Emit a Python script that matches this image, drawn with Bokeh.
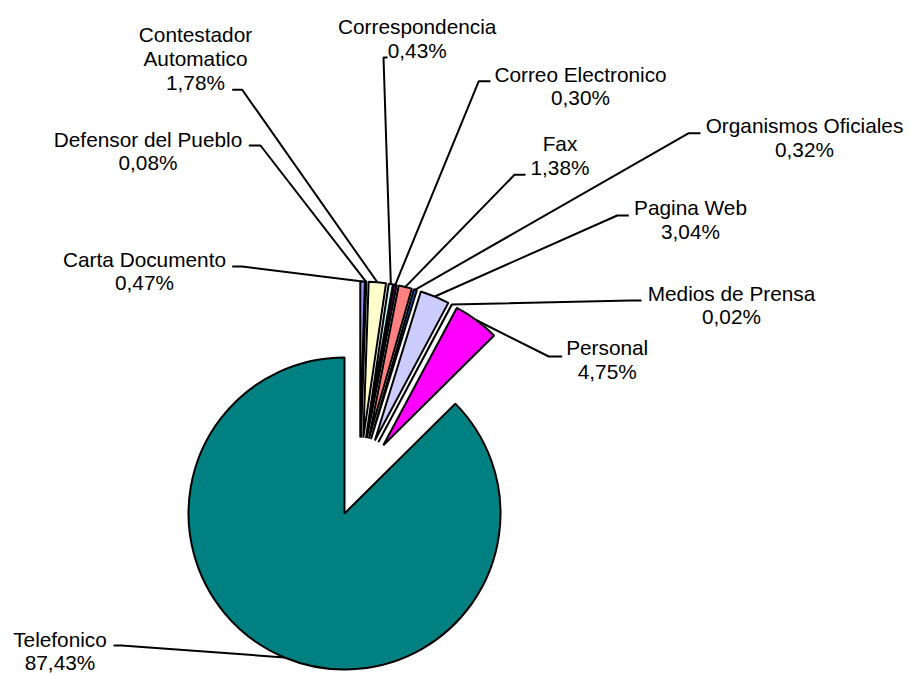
import numpy as np
from bokeh.plotting import figure
from bokeh.models import ColumnDataSource, Range1d
from bokeh.core.properties import value
from bokeh.embed import file_html
from bokeh.resources import INLINE

# ---- data ----
categories = ["Carta Documento", "Defensor del Pueblo", "Contestador Automatico",
              "Correspondencia", "Correo Electronico", "Fax", "Organismos Oficiales",
              "Pagina Web", "Medios de Prensa", "Personal", "Telefonico"]
shares = [0.47, 0.08, 1.78, 0.43, 0.30, 1.38, 0.32, 3.04, 0.02, 4.75, 87.43]
colors = ["#9999FF", "#993366", "#FFFFCC", "#CCFFFF", "#660066", "#FF8080",
          "#0066CC", "#CCCCFF", "#000080", "#FF00FF", "#008080"]
label_name_lines = [["Carta Documento"], ["Defensor del Pueblo"], ["Contestador", "Automatico"],
                    ["Correspondencia"], ["Correo Electronico"], ["Fax"], ["Organismos Oficiales"],
                    ["Pagina Web"], ["Medios de Prensa"], ["Personal"], ["Telefonico"]]

# ---- layout (reference pixel coordinates, y downward) ----
label_cx = [144.0, 147.5, 195.0, 416.7, 580.0, 559.5, 804.0, 690.0, 731.0, 606.7, 59.5]
label_base = [266.7, 146.7, 42.3, 34.0, 81.7, 151.0, 133.3, 215.0, 300.7, 355.0, 646.7]
stub_x0 = [231.7, 248.3, 231.7, 387.0, 490.0, 525.0, 700.0, 628.3, 641.0, 561.7, 113.0]
stub_x1 = [241.7, 260.0, 241.7, 383.0, 478.3, 514.0, 688.3, 616.7, 630.0, 548.3, 121.0]
stub_y = [266.0, 145.0, 89.3, 57.0, 80.7, 174.3, 132.7, 215.0, 300.0, 356.0, 645.0]
LINE_GAP = 23.7
TEXT_SHIFT = 8.0
CX, CY, R, EXPLODE = 359.2, 476.5, 156.0, 39.5

vals = np.array(shares, dtype=float)
frac = vals / vals.sum()
cum_end = np.cumsum(frac) * 2 * np.pi
cum_start = cum_end - frac * 2 * np.pi
mid = (cum_start + cum_end) / 2  # clockwise from 12 o'clock

# data coordinates: x = px, y = -px
cx = CX + EXPLODE * np.sin(mid)
cy = -CY + EXPLODE * np.cos(mid)
start_ang = np.pi / 2 - cum_end
end_ang = np.pi / 2 - cum_start

src = ColumnDataSource(dict(x=cx, y=cy, s=start_ang, e=end_ang, c=colors, name=categories))

p = figure(width=908, height=675, x_range=Range1d(0, 908), y_range=Range1d(-675, 0),
           output_backend="svg", toolbar_location=None, min_border=0,
           x_axis_type=None, y_axis_type=None)
p.outline_line_color = None
p.grid.visible = False
p.background_fill_color = "white"
p.border_fill_color = "white"

p.wedge(x="x", y="y", radius=R, start_angle="s", end_angle="e", direction="anticlock",
        fill_color="c", line_color="black", line_width=2, source=src)

# leader lines
xs, ys = [], []
for i in range(len(categories)):
    ex = cx[i] + R * np.sin(mid[i])
    ey = cy[i] + R * np.cos(mid[i])
    xs.append([stub_x0[i], stub_x1[i], ex])
    ys.append([-stub_y[i], -stub_y[i], ey])
p.multi_line(xs=xs, ys=ys, line_color="black", line_width=2)

# labels
tx, ty, tt = [], [], []
for i in range(len(categories)):
    lines = label_name_lines[i] + [f"{shares[i]:.2f}".replace(".", ",") + "%"]
    for j, t in enumerate(lines):
        tx.append(label_cx[i])
        ty.append(-(label_base[i] + j * LINE_GAP - TEXT_SHIFT))
        tt.append(t)
p.text(x=tx, y=ty, text=tt, text_align="center", text_baseline="alphabetic",
       text_font=value("Liberation Sans"), text_font_size="20.8px", text_color="black")

open("out.html", "w").write(file_html(p, INLINE))
